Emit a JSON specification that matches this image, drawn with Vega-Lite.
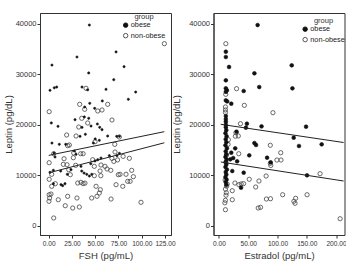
{
  "$schema": "https://vega.github.io/schema/vega-lite/v6.json",
  "padding": {"left": 2, "top": 12, "right": 0, "bottom": 0},
  "background": "white",
  "bounds": "flush",
  "spacing": 42.5,
  "config": {
    "font": "Liberation Sans",
    "view": {"stroke": "#333", "strokeWidth": 1},
    "axis": {
      "grid": false,
      "domainColor": "#333",
      "tickColor": "#333",
      "tickSize": 3,
      "labelFont": "Liberation Sans",
      "labelFontSize": 7.5,
      "labelColor": "#333",
      "labelPadding": 1,
      "labelOverlap": false,
      "titleFont": "Liberation Sans",
      "titleFontSize": 9.5,
      "titleFontWeight": "normal",
      "titleColor": "#333",
      "titlePadding": 2
    },
    "axisX": {"titlePadding": 4, "labelPadding": 2, "labelFontSize": 6.6},
    "legend": {
      "titleFont": "Liberation Sans",
      "titleFontSize": 7.5,
      "titleFontWeight": "normal",
      "titleColor": "#333",
      "titleAnchor": "middle",
      "titlePadding": 1,
      "labelFont": "Liberation Sans",
      "labelFontSize": 7.3,
      "labelColor": "#222",
      "labelOffset": 1.5,
      "rowPadding": 1.5,
      "symbolSize": 20,
      "symbolStrokeWidth": 0.9
    }
  },
  "datasets": {
    "fsh": [
      {"fsh": 43.7, "leptin": 39740, "group": "obese"},
      {"fsh": 30.4, "leptin": 33400, "group": "obese"},
      {"fsh": 3.5, "leptin": 31800, "group": "obese"},
      {"fsh": 72.4, "leptin": 34400, "group": "obese"},
      {"fsh": 81, "leptin": 31480, "group": "obese"},
      {"fsh": 43, "leptin": 30230, "group": "obese"},
      {"fsh": 1.4, "leptin": 26800, "group": "obese"},
      {"fsh": 6, "leptin": 27300, "group": "obese"},
      {"fsh": 8.6, "leptin": 27450, "group": "obese"},
      {"fsh": 35.8, "leptin": 27450, "group": "obese"},
      {"fsh": 41.9, "leptin": 26900, "group": "obese"},
      {"fsh": 61.6, "leptin": 27000, "group": "obese"},
      {"fsh": 69.9, "leptin": 28900, "group": "obese"},
      {"fsh": 93.5, "leptin": 26460, "group": "obese"},
      {"fsh": 85.6, "leptin": 25010, "group": "obese"},
      {"fsh": 44.1, "leptin": 24220, "group": "obese"},
      {"fsh": 57.6, "leptin": 24680, "group": "obese"},
      {"fsh": 38.7, "leptin": 23490, "group": "obese"},
      {"fsh": 49.4, "leptin": 23230, "group": "obese"},
      {"fsh": 28.3, "leptin": 20970, "group": "obese"},
      {"fsh": 2.8, "leptin": 20320, "group": "obese"},
      {"fsh": 10, "leptin": 19660, "group": "obese"},
      {"fsh": 38.3, "leptin": 21510, "group": "obese"},
      {"fsh": 43, "leptin": 21250, "group": "obese"},
      {"fsh": 52.3, "leptin": 20120, "group": "obese"},
      {"fsh": 54.8, "leptin": 19460, "group": "obese"},
      {"fsh": 57.3, "leptin": 18990, "group": "obese"},
      {"fsh": 35.8, "leptin": 19460, "group": "obese"},
      {"fsh": 45.5, "leptin": 19720, "group": "obese"},
      {"fsh": 39.4, "leptin": 18080, "group": "obese"},
      {"fsh": 63.4, "leptin": 17740, "group": "obese"},
      {"fsh": 73.1, "leptin": 17680, "group": "obese"},
      {"fsh": 33.7, "leptin": 17680, "group": "obese"},
      {"fsh": 50, "leptin": 17150, "group": "obese"},
      {"fsh": 76, "leptin": 17680, "group": "obese"},
      {"fsh": 3.5, "leptin": 16350, "group": "obese"},
      {"fsh": 11.4, "leptin": 16090, "group": "obese"},
      {"fsh": 18.3, "leptin": 16090, "group": "obese"},
      {"fsh": 48, "leptin": 16350, "group": "obese"},
      {"fsh": 54.4, "leptin": 16890, "group": "obese"},
      {"fsh": 27.5, "leptin": 14770, "group": "obese"},
      {"fsh": 29.4, "leptin": 14110, "group": "obese"},
      {"fsh": 5.7, "leptin": 14370, "group": "obese"},
      {"fsh": 6.8, "leptin": 13580, "group": "obese"},
      {"fsh": 56.2, "leptin": 13380, "group": "obese"},
      {"fsh": 65.2, "leptin": 13840, "group": "obese"},
      {"fsh": 52.7, "leptin": 13040, "group": "obese"},
      {"fsh": 73.4, "leptin": 13840, "group": "obese"},
      {"fsh": 76, "leptin": 14300, "group": "obese"},
      {"fsh": 45.2, "leptin": 12250, "group": "obese"},
      {"fsh": 49.8, "leptin": 12790, "group": "obese"},
      {"fsh": 24, "leptin": 11060, "group": "obese"},
      {"fsh": 34.7, "leptin": 11730, "group": "obese"},
      {"fsh": 1.4, "leptin": 10550, "group": "obese"},
      {"fsh": 5, "leptin": 10940, "group": "obese"},
      {"fsh": 12.9, "leptin": 10800, "group": "obese"},
      {"fsh": 20, "leptin": 10150, "group": "obese"},
      {"fsh": 35.5, "leptin": 10800, "group": "obese"},
      {"fsh": 38, "leptin": 10400, "group": "obese"},
      {"fsh": 40.9, "leptin": 10150, "group": "obese"},
      {"fsh": 43.7, "leptin": 9800, "group": "obese"},
      {"fsh": 46.3, "leptin": 10150, "group": "obese"},
      {"fsh": 5, "leptin": 8290, "group": "obese"},
      {"fsh": 13.2, "leptin": 8090, "group": "obese"},
      {"fsh": 15, "leptin": 7900, "group": "obese"},
      {"fsh": 17.5, "leptin": 8290, "group": "obese"},
      {"fsh": 124.3, "leptin": 36040, "group": "non-obese"},
      {"fsh": 0.5, "leptin": 22560, "group": "non-obese"},
      {"fsh": 40.1, "leptin": 27200, "group": "non-obese"},
      {"fsh": 33.3, "leptin": 24020, "group": "non-obese"},
      {"fsh": 38.7, "leptin": 23030, "group": "non-obese"},
      {"fsh": 52.7, "leptin": 22700, "group": "non-obese"},
      {"fsh": 57.3, "leptin": 22900, "group": "non-obese"},
      {"fsh": 63.4, "leptin": 24020, "group": "non-obese"},
      {"fsh": 68, "leptin": 20910, "group": "non-obese"},
      {"fsh": 35.5, "leptin": 21250, "group": "non-obese"},
      {"fsh": 32.3, "leptin": 19520, "group": "non-obese"},
      {"fsh": 41.9, "leptin": 20320, "group": "non-obese"},
      {"fsh": 19.3, "leptin": 17940, "group": "non-obese"},
      {"fsh": 29.4, "leptin": 17740, "group": "non-obese"},
      {"fsh": 75.9, "leptin": 17540, "group": "non-obese"},
      {"fsh": 71, "leptin": 16090, "group": "non-obese"},
      {"fsh": 22.2, "leptin": 15960, "group": "non-obese"},
      {"fsh": 49.8, "leptin": 16610, "group": "non-obese"},
      {"fsh": 20.4, "leptin": 15820, "group": "non-obese"},
      {"fsh": 34.4, "leptin": 14230, "group": "non-obese"},
      {"fsh": 37, "leptin": 14230, "group": "non-obese"},
      {"fsh": 26.9, "leptin": 14370, "group": "non-obese"},
      {"fsh": 5.4, "leptin": 14230, "group": "non-obese"},
      {"fsh": 26.5, "leptin": 13440, "group": "non-obese"},
      {"fsh": 71.3, "leptin": 14570, "group": "non-obese"},
      {"fsh": 68, "leptin": 13300, "group": "non-obese"},
      {"fsh": 70, "leptin": 12700, "group": "non-obese"},
      {"fsh": 74, "leptin": 13000, "group": "non-obese"},
      {"fsh": 80, "leptin": 13700, "group": "non-obese"},
      {"fsh": 86.7, "leptin": 13320, "group": "non-obese"},
      {"fsh": 0.5, "leptin": 12450, "group": "non-obese"},
      {"fsh": 16.5, "leptin": 13240, "group": "non-obese"},
      {"fsh": 15.7, "leptin": 12130, "group": "non-obese"},
      {"fsh": 19.7, "leptin": 12050, "group": "non-obese"},
      {"fsh": 21.5, "leptin": 11060, "group": "non-obese"},
      {"fsh": 29, "leptin": 11930, "group": "non-obese"},
      {"fsh": 47.3, "leptin": 13040, "group": "non-obese"},
      {"fsh": 49, "leptin": 11730, "group": "non-obese"},
      {"fsh": 56.2, "leptin": 11990, "group": "non-obese"},
      {"fsh": 60.5, "leptin": 11730, "group": "non-obese"},
      {"fsh": 62.7, "leptin": 11200, "group": "non-obese"},
      {"fsh": 55.2, "leptin": 10800, "group": "non-obese"},
      {"fsh": 66.7, "leptin": 10940, "group": "non-obese"},
      {"fsh": 3.2, "leptin": 10150, "group": "non-obese"},
      {"fsh": 23.2, "leptin": 10070, "group": "non-obese"},
      {"fsh": 49, "leptin": 9870, "group": "non-obese"},
      {"fsh": 56, "leptin": 9870, "group": "non-obese"},
      {"fsh": 89.2, "leptin": 10940, "group": "non-obese"},
      {"fsh": 83.1, "leptin": 10150, "group": "non-obese"},
      {"fsh": 76.7, "leptin": 10150, "group": "non-obese"},
      {"fsh": 74.8, "leptin": 10070, "group": "non-obese"},
      {"fsh": 91, "leptin": 9680, "group": "non-obese"},
      {"fsh": 0.5, "leptin": 9160, "group": "non-obese"},
      {"fsh": 3.2, "leptin": 7770, "group": "non-obese"},
      {"fsh": 7.1, "leptin": 8290, "group": "non-obese"},
      {"fsh": 31.2, "leptin": 8420, "group": "non-obese"},
      {"fsh": 34.7, "leptin": 8560, "group": "non-obese"},
      {"fsh": 37, "leptin": 8300, "group": "non-obese"},
      {"fsh": 39, "leptin": 8400, "group": "non-obese"},
      {"fsh": 50.9, "leptin": 7770, "group": "non-obese"},
      {"fsh": 55.5, "leptin": 7100, "group": "non-obese"},
      {"fsh": 72.4, "leptin": 8090, "group": "non-obese"},
      {"fsh": 79.6, "leptin": 7770, "group": "non-obese"},
      {"fsh": 84.9, "leptin": 8760, "group": "non-obese"},
      {"fsh": 87.5, "leptin": 8760, "group": "non-obese"},
      {"fsh": 0.5, "leptin": 6100, "group": "non-obese"},
      {"fsh": 2.5, "leptin": 6240, "group": "non-obese"},
      {"fsh": 1, "leptin": 5450, "group": "non-obese"},
      {"fsh": 0.3, "leptin": 4800, "group": "non-obese"},
      {"fsh": 10.3, "leptin": 5110, "group": "non-obese"},
      {"fsh": 20.4, "leptin": 5790, "group": "non-obese"},
      {"fsh": 30.4, "leptin": 5450, "group": "non-obese"},
      {"fsh": 46.2, "leptin": 5450, "group": "non-obese"},
      {"fsh": 51.9, "leptin": 5790, "group": "non-obese"},
      {"fsh": 54.4, "leptin": 6440, "group": "non-obese"},
      {"fsh": 67, "leptin": 5250, "group": "non-obese"},
      {"fsh": 17.8, "leptin": 3920, "group": "non-obese"},
      {"fsh": 25.8, "leptin": 3470, "group": "non-obese"},
      {"fsh": 32.9, "leptin": 3670, "group": "non-obese"},
      {"fsh": 99.2, "leptin": 4600, "group": "non-obese"},
      {"fsh": 5.4, "leptin": 1490, "group": "non-obese"}
    ],
    "fshFit": [
      {"fsh": 0, "leptin": 13900, "group": "obese"},
      {"fsh": 124.3, "leptin": 18600, "group": "obese"},
      {"fsh": 0.3, "leptin": 10450, "group": "non-obese"},
      {"fsh": 124.3, "leptin": 16400, "group": "non-obese"}
    ],
    "estradiol": [
      {"e2": 66, "leptin": 39740, "group": "obese"},
      {"e2": 11.7, "leptin": 34450, "group": "obese"},
      {"e2": 11.7, "leptin": 33400, "group": "obese"},
      {"e2": 17.2, "leptin": 31420, "group": "obese"},
      {"e2": 60.5, "leptin": 30170, "group": "obese"},
      {"e2": 124.3, "leptin": 31750, "group": "obese"},
      {"e2": 11.7, "leptin": 28780, "group": "obese"},
      {"e2": 11.7, "leptin": 27200, "group": "obese"},
      {"e2": 13.5, "leptin": 26800, "group": "obese"},
      {"e2": 11.7, "leptin": 26500, "group": "obese"},
      {"e2": 42.2, "leptin": 26660, "group": "obese"},
      {"e2": 68.8, "leptin": 27450, "group": "obese"},
      {"e2": 125.5, "leptin": 27190, "group": "obese"},
      {"e2": 11.7, "leptin": 24800, "group": "obese"},
      {"e2": 14, "leptin": 24600, "group": "obese"},
      {"e2": 21, "leptin": 24140, "group": "obese"},
      {"e2": 11.7, "leptin": 21700, "group": "obese"},
      {"e2": 11.7, "leptin": 21100, "group": "obese"},
      {"e2": 11.7, "leptin": 20600, "group": "obese"},
      {"e2": 11.7, "leptin": 20000, "group": "obese"},
      {"e2": 11.7, "leptin": 19500, "group": "obese"},
      {"e2": 47.7, "leptin": 20180, "group": "obese"},
      {"e2": 46, "leptin": 19390, "group": "obese"},
      {"e2": 72.7, "leptin": 19650, "group": "obese"},
      {"e2": 148.8, "leptin": 19590, "group": "obese"},
      {"e2": 30, "leptin": 18600, "group": "obese"},
      {"e2": 12.5, "leptin": 18900, "group": "obese"},
      {"e2": 11, "leptin": 18300, "group": "obese"},
      {"e2": 13, "leptin": 17700, "group": "obese"},
      {"e2": 11.5, "leptin": 17100, "group": "obese"},
      {"e2": 12.5, "leptin": 16500, "group": "obese"},
      {"e2": 11, "leptin": 15900, "group": "obese"},
      {"e2": 13.5, "leptin": 15300, "group": "obese"},
      {"e2": 11.5, "leptin": 14700, "group": "obese"},
      {"e2": 12.5, "leptin": 14100, "group": "obese"},
      {"e2": 11, "leptin": 13600, "group": "obese"},
      {"e2": 13, "leptin": 13100, "group": "obese"},
      {"e2": 11.5, "leptin": 12600, "group": "obese"},
      {"e2": 12.5, "leptin": 12100, "group": "obese"},
      {"e2": 11, "leptin": 11600, "group": "obese"},
      {"e2": 13.5, "leptin": 11100, "group": "obese"},
      {"e2": 11.5, "leptin": 10600, "group": "obese"},
      {"e2": 12.5, "leptin": 10100, "group": "obese"},
      {"e2": 11, "leptin": 9600, "group": "obese"},
      {"e2": 13, "leptin": 9100, "group": "obese"},
      {"e2": 11.5, "leptin": 8600, "group": "obese"},
      {"e2": 12.5, "leptin": 8100, "group": "obese"},
      {"e2": 27.7, "leptin": 15300, "group": "obese"},
      {"e2": 21, "leptin": 14430, "group": "obese"},
      {"e2": 19.3, "leptin": 13120, "group": "obese"},
      {"e2": 24.3, "leptin": 13380, "group": "obese"},
      {"e2": 31, "leptin": 12730, "group": "obese"},
      {"e2": 22.7, "leptin": 10800, "group": "obese"},
      {"e2": 42.2, "leptin": 10470, "group": "obese"},
      {"e2": 37.7, "leptin": 7490, "group": "obese"},
      {"e2": 60.5, "leptin": 16350, "group": "obese"},
      {"e2": 63.3, "leptin": 15960, "group": "obese"},
      {"e2": 51.7, "leptin": 13910, "group": "obese"},
      {"e2": 82.2, "leptin": 13440, "group": "obese"},
      {"e2": 88.3, "leptin": 12530, "group": "obese"},
      {"e2": 127.7, "leptin": 17400, "group": "obese"},
      {"e2": 136.7, "leptin": 15760, "group": "obese"},
      {"e2": 175.5, "leptin": 16090, "group": "obese"},
      {"e2": 150.5, "leptin": 9950, "group": "obese"},
      {"e2": 11.7, "leptin": 36040, "group": "non-obese"},
      {"e2": 30, "leptin": 27120, "group": "non-obese"},
      {"e2": 11.5, "leptin": 26000, "group": "non-obese"},
      {"e2": 43.3, "leptin": 23820, "group": "non-obese"},
      {"e2": 11, "leptin": 23500, "group": "non-obese"},
      {"e2": 11, "leptin": 22900, "group": "non-obese"},
      {"e2": 11, "leptin": 22400, "group": "non-obese"},
      {"e2": 92.2, "leptin": 22360, "group": "non-obese"},
      {"e2": 36.7, "leptin": 20180, "group": "non-obese"},
      {"e2": 29, "leptin": 18400, "group": "non-obese"},
      {"e2": 28, "leptin": 17700, "group": "non-obese"},
      {"e2": 33, "leptin": 17750, "group": "non-obese"},
      {"e2": 16, "leptin": 17000, "group": "non-obese"},
      {"e2": 15.5, "leptin": 16090, "group": "non-obese"},
      {"e2": 87.7, "leptin": 15900, "group": "non-obese"},
      {"e2": 105.5, "leptin": 14430, "group": "non-obese"},
      {"e2": 33.8, "leptin": 14230, "group": "non-obese"},
      {"e2": 13, "leptin": 14000, "group": "non-obese"},
      {"e2": 99, "leptin": 12980, "group": "non-obese"},
      {"e2": 106, "leptin": 12980, "group": "non-obese"},
      {"e2": 12, "leptin": 12500, "group": "non-obese"},
      {"e2": 87.7, "leptin": 12330, "group": "non-obese"},
      {"e2": 88.5, "leptin": 11900, "group": "non-obese"},
      {"e2": 172.7, "leptin": 10270, "group": "non-obese"},
      {"e2": 80.5, "leptin": 9810, "group": "non-obese"},
      {"e2": 51.7, "leptin": 9160, "group": "non-obese"},
      {"e2": 68.3, "leptin": 8820, "group": "non-obese"},
      {"e2": 10.5, "leptin": 9000, "group": "non-obese"},
      {"e2": 27.2, "leptin": 8420, "group": "non-obese"},
      {"e2": 34, "leptin": 8100, "group": "non-obese"},
      {"e2": 38, "leptin": 8250, "group": "non-obese"},
      {"e2": 42, "leptin": 8300, "group": "non-obese"},
      {"e2": 14, "leptin": 8200, "group": "non-obese"},
      {"e2": 13, "leptin": 7800, "group": "non-obese"},
      {"e2": 62.7, "leptin": 7630, "group": "non-obese"},
      {"e2": 11, "leptin": 7200, "group": "non-obese"},
      {"e2": 22.7, "leptin": 6900, "group": "non-obese"},
      {"e2": 12.5, "leptin": 6500, "group": "non-obese"},
      {"e2": 12, "leptin": 6000, "group": "non-obese"},
      {"e2": 108.8, "leptin": 6100, "group": "non-obese"},
      {"e2": 150.5, "leptin": 6100, "group": "non-obese"},
      {"e2": 81, "leptin": 5250, "group": "non-obese"},
      {"e2": 88, "leptin": 5310, "group": "non-obese"},
      {"e2": 22.7, "leptin": 5110, "group": "non-obese"},
      {"e2": 11, "leptin": 5000, "group": "non-obese"},
      {"e2": 10, "leptin": 4500, "group": "non-obese"},
      {"e2": 128, "leptin": 4800, "group": "non-obese"},
      {"e2": 130, "leptin": 4400, "group": "non-obese"},
      {"e2": 131, "leptin": 5400, "group": "non-obese"},
      {"e2": 67, "leptin": 3470, "group": "non-obese"},
      {"e2": 71, "leptin": 3600, "group": "non-obese"},
      {"e2": 11, "leptin": 3130, "group": "non-obese"},
      {"e2": 207, "leptin": 1350, "group": "non-obese"}
    ],
    "estradiolFit": [
      {"e2": 3, "leptin": 20060, "group": "obese"},
      {"e2": 213, "leptin": 16450, "group": "obese"},
      {"e2": 3, "leptin": 12590, "group": "non-obese"},
      {"e2": 213, "leptin": 8820, "group": "non-obese"}
    ]
  },
  "resolve": {
    "scale": {"fill": "independent", "stroke": "independent"},
    "legend": {"fill": "independent", "stroke": "independent"}
  },
  "hconcat": [
    {
      "width": 131,
      "height": 222,
      "encoding": {
        "x": {"field": "fsh", "type": "quantitative",
              "scale": {"domain": [-9.35, 131.45], "nice": false, "zero": false},
              "axis": {"values": [0, 25, 50, 75, 100, 125], "format": ".2f", "title": "FSH  (pg/mL)"}},
        "y": {"field": "leptin", "type": "quantitative",
              "scale": {"domain": [-1880, 42120], "nice": false, "zero": false},
              "axis": {"values": [0, 10000, 20000, 30000, 40000], "format": "d", "title": "Leptin (pg/dL)", "titlePadding": 2}}
      },
      "layer": [
        {
          "data": {"name": "fsh"},
          "transform": [{"filter": "datum.group === 'non-obese'"}],
          "mark": {"type": "point", "strokeWidth": 0.8, "opacity": 1, "size": 18},
          "encoding": {
            "fill": {"field": "group", "type": "nominal",
                     "scale": {"domain": ["obese", "non-obese"], "range": ["#111", "transparent"]},
                     "legend": {"orient": "none", "legendX": 82, "legendY": 0, "title": "group", "titleColor": "#333"}},
            "stroke": {"field": "group", "type": "nominal",
                       "scale": {"domain": ["obese", "non-obese"], "range": ["#111", "#444"]},
                       "legend": {"orient": "none", "legendX": 82, "legendY": 0, "title": "group", "titleColor": "#333"}}
          }
        },
        {
          "data": {"name": "fsh"},
          "transform": [{"filter": "datum.group === 'obese'"}],
          "mark": {"type": "point", "strokeWidth": 0.6, "opacity": 1, "size": 5},
          "encoding": {
            "fill": {"field": "group", "type": "nominal"},
            "stroke": {"field": "group", "type": "nominal"}
          }
        },
        {
          "data": {"name": "fshFit"},
          "mark": {"type": "line", "color": "#222", "strokeWidth": 1},
          "encoding": {
            "detail": {"field": "group", "type": "nominal"}
          }
        }
      ]
    },
    {
      "width": 131,
      "height": 222,
      "encoding": {
        "x": {"field": "e2", "type": "quantitative",
              "scale": {"domain": [-9.4, 214.5], "nice": false, "zero": false},
              "axis": {"values": [0, 50, 100, 150, 200], "format": ".2f", "title": "Estradol  (pg/mL)"}},
        "y": {"field": "leptin", "type": "quantitative",
              "scale": {"domain": [-1880, 42120], "nice": false, "zero": false},
              "axis": {"values": [0, 10000, 20000, 30000, 40000], "format": "d", "title": "Leptin (pg/dL)", "titlePadding": 7}}
      },
      "layer": [
        {
          "data": {"name": "estradiol"},
          "transform": [{"filter": "datum.group === 'non-obese'"}],
          "mark": {"type": "point", "strokeWidth": 0.8, "opacity": 1, "size": 18},
          "encoding": {
            "fill": {"field": "group", "type": "nominal",
                     "scale": {"domain": ["obese", "non-obese"], "range": ["#111", "transparent"]},
                     "legend": {"orient": "none", "legendX": 88, "legendY": 4, "title": "group", "titleColor": "#333"}},
            "stroke": {"field": "group", "type": "nominal",
                       "scale": {"domain": ["obese", "non-obese"], "range": ["#111", "#444"]},
                       "legend": {"orient": "none", "legendX": 88, "legendY": 4, "title": "group", "titleColor": "#333"}}
          }
        },
        {
          "data": {"name": "estradiol"},
          "transform": [{"filter": "datum.group === 'obese'"}],
          "mark": {"type": "point", "strokeWidth": 0.6, "opacity": 1, "size": 14},
          "encoding": {
            "fill": {"field": "group", "type": "nominal"},
            "stroke": {"field": "group", "type": "nominal"}
          }
        },
        {
          "data": {"name": "estradiolFit"},
          "mark": {"type": "line", "color": "#222", "strokeWidth": 1},
          "encoding": {
            "detail": {"field": "group", "type": "nominal"}
          }
        }
      ]
    }
  ]
}
